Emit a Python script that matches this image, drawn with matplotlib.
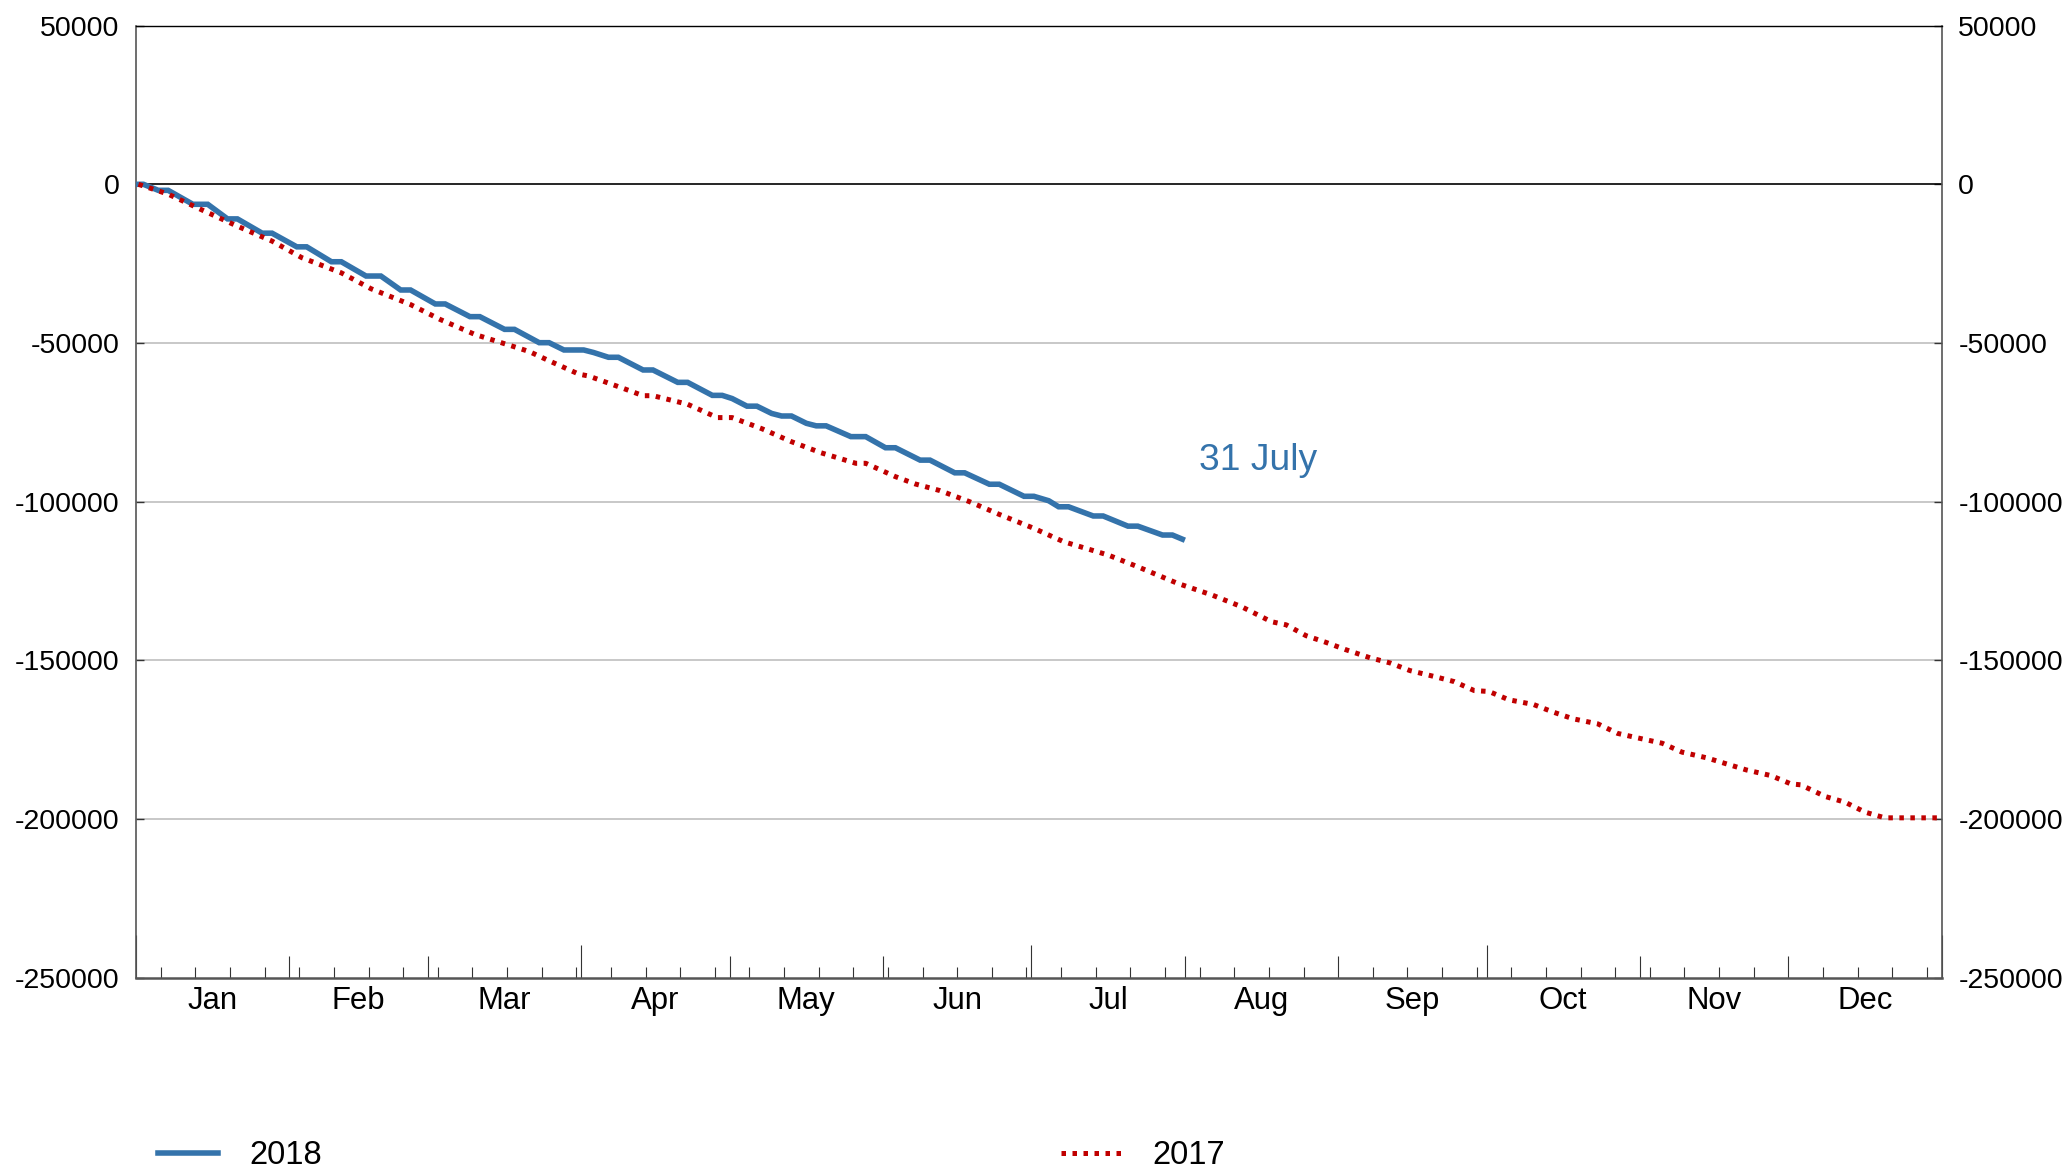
import matplotlib
matplotlib.use("Agg")
import matplotlib.pyplot as plt
from matplotlib.lines import Line2D
import pandas as pd

plt.rcParams['font.family'] = ['Liberation Sans', 'DejaVu Sans']
plt.rcParams['axes.unicode_minus'] = False

# ---------------- data ----------------
dates_2018 = ["01-01", "01-02", "01-05", "01-07", "01-12", "01-15", "01-19", "01-21",
              "01-26", "01-28", "02-02", "02-04", "02-09", "02-11", "02-16", "02-19",
              "02-23", "02-25", "03-02", "03-04", "03-09", "03-11", "03-16", "03-18",
              "03-23", "03-25", "03-28", "04-01", "04-03", "04-06", "04-08", "04-13",
              "04-15", "04-20", "04-22", "04-27", "04-29", "05-01", "05-04", "05-06",
              "05-09", "05-11", "05-13", "05-16", "05-18", "05-20", "05-25", "05-28",
              "06-01", "06-03", "06-08", "06-10", "06-15", "06-17", "06-22", "06-24",
              "06-29", "07-01", "07-04", "07-06", "07-08", "07-13", "07-15", "07-20",
              "07-22", "07-27", "07-29", "07-31"]
values_2018 = [0, 0, -1900, -1900, -6300, -6300, -10900, -10900,
               -15400, -15400, -19700, -19700, -24400, -24400, -28900, -28900,
               -33300, -33300, -37700, -37700, -41700, -41700, -45700, -45700,
               -49900, -49900, -52200, -52200, -53000, -54500, -54500, -58500,
               -58500, -62400, -62400, -66500, -66500, -67500, -69900, -69900,
               -72200, -73000, -73000, -75300, -76100, -76100, -79500, -79500,
               -83000, -83000, -86900, -86900, -90900, -90900, -94500, -94500,
               -98300, -98300, -99700, -101600, -101600, -104500, -104500, -107700,
               -107700, -110500, -110500, -111800]

dates_2017 = ["01-01", "01-07", "01-14", "01-21", "01-28", "02-03", "02-11", "02-17",
              "02-25", "03-03", "03-10", "03-18", "03-21", "03-25", "03-31", "04-02",
              "04-09", "04-13", "04-15", "04-22", "04-28", "05-01", "05-07", "05-13",
              "05-19", "05-26", "05-28", "06-03", "06-07", "06-12", "06-18", "06-24",
              "07-01", "07-07", "07-16", "07-22", "07-30", "08-06", "08-12", "08-18",
              "08-21", "08-25", "08-29", "09-02", "09-07", "09-11", "09-15", "09-20",
              "09-24", "09-28", "10-01", "10-05", "10-10", "10-14", "10-18", "10-23",
              "10-27", "10-31", "11-05", "11-09", "11-14", "11-18", "11-22", "11-27",
              "12-01", "12-03", "12-08", "12-12", "12-16", "12-20", "12-31"]
values_2017 = [0, -3100, -8200, -13200, -17900, -23100, -27900, -32900,
               -37900, -42600, -47300, -51200, -52700, -55600, -59800, -60400,
               -64300, -66600, -66600, -69300, -73500, -73500, -77000, -81100,
               -84600, -87900, -87900, -92100, -94400, -96500, -100000, -104000,
               -108400, -112600, -116800, -120500, -125700, -129400, -133100, -137800,
               -138800, -142200, -144300, -146600, -149200, -150800, -153200, -155100,
               -156700, -159500, -159800, -162400, -163900, -166300, -168400, -170000,
               -173000, -174400, -176100, -178900, -180700, -182600, -184500, -186300,
               -188900, -189200, -192900, -194700, -197800, -199600, -199600]

month_labels = ["Jan", "Feb", "Mar", "Apr", "May", "Jun",
                "Jul", "Aug", "Sep", "Oct", "Nov", "Dec"]
y_ticks = [50000, 0, -50000, -100000, -150000, -200000, -250000]
annotation = "31 July"

# ---------------- positions ----------------
x18 = pd.to_datetime(["2018-" + d for d in dates_2018]).dayofyear.values - 0.5
x17 = pd.to_datetime(["2017-" + d for d in dates_2017]).dayofyear.values - 0.5
month_starts = pd.date_range("2018-01-01", "2019-01-01", freq="MS").dayofyear.values - 1
month_starts[-1] = 365
month_mids = (month_starts[:-1] + month_starts[1:]) / 2.0
week_ticks = list(range(5, 365, 7))

BLUE = "#3473AB"
RED = "#C00000"
DOT = (0, (0.9, 1.3))

fig = plt.figure(figsize=(20.67, 11.70), dpi=100)
ax = fig.add_axes([0.0658, 0.16427, 0.87358, 0.81385])

ax.set_xlim(0, 365)
ax.set_ylim(-250000, 50000)

# grid lines
for yv in y_ticks:
    if yv in (0, 50000, -250000):
        continue
    ax.axhline(yv, color="#C8C8C8", lw=1.4, zorder=1)
ax.axhline(0, color="black", lw=1.2, zorder=2)

# series
ax.plot(x18, values_2018, color=BLUE, lw=4.0, solid_joinstyle="miter", zorder=3, label="2018")
ax.plot(x17, values_2017, color=RED, lw=3.6, linestyle=DOT,
        dash_capstyle="butt", zorder=4, label="2017")

ax.text(x18[-1] + 3.3, values_2018[-1] + 24800, annotation, color=BLUE,
        fontsize=26.8, va="center", ha="left")

# spines
for s in ("left", "right"):
    ax.spines[s].set_color("#555555")
    ax.spines[s].set_linewidth(1.2)
ax.spines["top"].set_color("black")
ax.spines["top"].set_linewidth(1.0)
ax.spines["bottom"].set_color("#555555")
ax.spines["bottom"].set_linewidth(1.8)

# y axis
ax.set_yticks(y_ticks)
ax.set_yticklabels([str(v) for v in y_ticks])
ax.tick_params(axis="y", which="major", direction="in", length=5.8, width=1.0,
               color="#333333", left=True, right=True, labelleft=True, labelright=True,
               labelsize=20.5, pad=12)

# x axis ticks
ax.set_xticks(month_starts)
ax.set_xticklabels([])
ax.set_xticks(week_ticks, minor=True)
ax.tick_params(axis="x", which="major", direction="in", length=15.6, width=0.8,
               color="#333333", top=False)
ax.tick_params(axis="x", which="minor", direction="in", length=7.7, width=0.8,
               color="#333333", top=False)
for i, t in enumerate(ax.xaxis.get_major_ticks()):
    if i in (0, 12):
        t.tick1line.set_markersize(31)
    elif i in (3, 6, 9):
        t.tick1line.set_markersize(23.5)

sec = ax.secondary_xaxis("bottom")
sec.set_xticks(month_mids)
sec.set_xticklabels(month_labels)
sec.tick_params(axis="x", length=0, pad=5.8, labelsize=22.4)
sec.spines["bottom"].set_visible(False)

# legend
handles = [Line2D([], [], color=BLUE, lw=4.0),
           Line2D([], [], color=RED, lw=3.6, linestyle=DOT, dash_capstyle="butt")]
fig.legend(handles, ["2018", "2017"], loc="center left",
           bbox_to_anchor=(158 / 2067, 1 - 1156 / 1170), ncol=2, frameon=False,
           fontsize=23.5, handlelength=1.85, handletextpad=0.95, columnspacing=22.65,
           borderpad=0, borderaxespad=0)

fig.savefig("out.png", dpi=100)
